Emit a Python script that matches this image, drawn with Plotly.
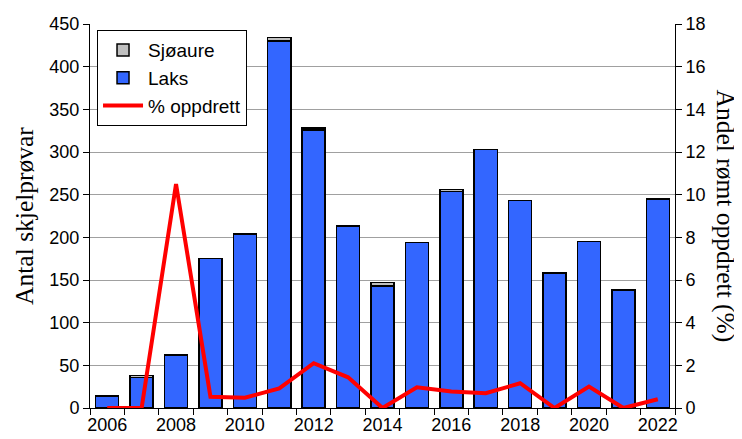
import plotly.graph_objects as go

years = list(range(2006, 2023))
laks = [14, 36, 62, 175, 204, 430, 326, 213, 143, 194, 254, 303, 243, 158, 195, 138, 245]
sjoaure = [0, 2, 0, 0, 0, 4, 2, 0, 4, 0, 2, 0, 0, 0, 0, 0, 0]
pct_oppdrett = [0, 0, 10.5, 0.53, 0.48, 0.92, 2.1, 1.44, 0, 0.97, 0.77, 0.69, 1.16, 0, 1.0, 0, 0.41]
left_ticks = list(range(0, 451, 50))
right_ticks = list(range(0, 19, 2))
label_years = list(range(2006, 2023, 2))

fig = go.Figure()
fig.add_trace(go.Bar(x=years, y=laks, name="Laks", width=0.67, legendgroup="b",
                     marker=dict(color="#3366FF", line=dict(color="black", width=1.5)),
                     legendrank=2))
fig.add_trace(go.Bar(x=years, y=sjoaure, name="Sjøaure", width=0.67, legendgroup="a",
                     marker=dict(color="#C0C0C0", line=dict(color="black", width=1.5)),
                     legendrank=1))
fig.add_trace(go.Scatter(x=years, y=pct_oppdrett, name="% oppdrett", mode="lines",
                         legendgroup="c",
                         line=dict(color="#FF0000", width=4), yaxis="y2",
                         legendrank=3))

tick_font = dict(family="Liberation Sans, Arial", size=18, color="black")

fig.update_layout(
    width=734, height=431,
    margin=dict(l=82, r=67, t=16, b=31, autoexpand=False),
    paper_bgcolor="white", plot_bgcolor="white",
    barmode="stack", bargap=0.33,
    showlegend=True,
    legend=dict(x=0.012, y=0.984, xanchor="left", yanchor="top",
                bordercolor="black", borderwidth=1, bgcolor="white",
                font=dict(family="Liberation Sans, Arial", size=19, color="black"),
                traceorder="normal", itemwidth=40, tracegroupgap=4),
    xaxis=dict(range=[2005.5, 2022.5], tickmode="array", tickvals=label_years,
               ticktext=[str(y) for y in label_years], ticks="", showgrid=False,
               showline=True, linecolor="black", linewidth=1, tickfont=tick_font,
               zeroline=False, automargin=False,
               minor=dict(tickmode="array", tickvals=[y + 0.5 for y in range(2005, 2023)],
                          ticks="outside", ticklen=6, tickcolor="black", showgrid=False)),
    yaxis=dict(range=[0, 450], tickmode="array", tickvals=left_ticks, ticks="outside",
               ticklen=6, tickcolor="black", showgrid=True, gridcolor="#A0A0A0",
               gridwidth=1, showline=True, linecolor="black", linewidth=1,
               tickfont=tick_font, zeroline=False, automargin=False),
    yaxis2=dict(range=[0, 18], tickmode="array", tickvals=right_ticks, overlaying="y",
                side="right", ticks="outside", ticklen=6, tickcolor="black",
                showgrid=False, showline=True, linecolor="black", linewidth=1,
                tickfont=tick_font, zeroline=False, automargin=False),
    annotations=[
        dict(text="Antal skjelprøvar", xref="paper", yref="paper", x=-0.113, y=0.5,
             xanchor="center", yanchor="middle", textangle=-90, showarrow=False,
             font=dict(family="Liberation Serif, Times New Roman", size=25.5, color="black")),
        dict(text="Andel rømt oppdrett (%)", xref="paper", yref="paper", x=1.088, y=0.5,
             xanchor="center", yanchor="middle", textangle=90, showarrow=False,
             font=dict(family="Liberation Serif, Times New Roman", size=25.5, color="black")),
    ],
)

fig.write_html("out.html")
